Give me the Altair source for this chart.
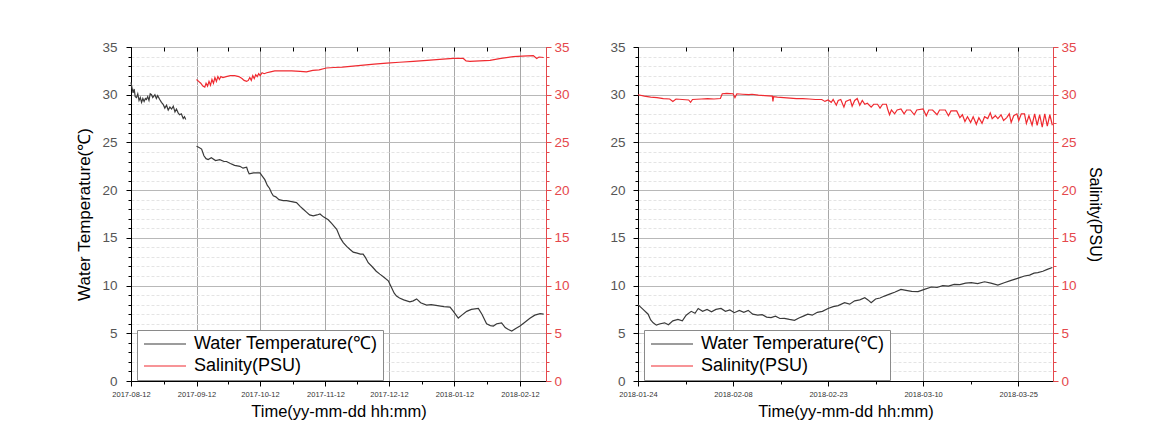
import altair as alt
import pandas as pd

# ---------------- data (x = days since panel start) ----------------
L_START = "2017-08-12"
R_START = "2018-01-24"
L_END_DAYS = 196.3
R_END_DAYS = 65.5

L_TICKS = ["2017-08-12", "2017-09-12", "2017-10-12", "2017-11-12",
           "2017-12-12", "2018-01-12", "2018-02-12"]
R_TICKS = ["2018-01-24", "2018-02-08", "2018-02-23", "2018-03-10", "2018-03-25"]
Y_TICKS = list(range(0, 36))

TEMP = "Water Temperature(\u2103)"
SAL = "Salinity(PSU)"

# left panel, water temperature, first segment
lt1_days = [0.0, 0.5, 1.0, 1.5, 2.0, 2.6, 3.2, 3.8, 4.4, 5.0, 5.6, 6.2, 6.8, 7.3, 7.9,
            8.5, 9.1, 9.7, 10.3, 11.3, 12.0, 12.6, 13.6, 14.4, 15.2, 16.0, 16.8, 17.6,
            18.4, 19.2, 20.0, 20.8, 21.5, 22.3, 23.0, 23.8, 24.7, 25.3, 25.9]
lt1_vals = [31.3, 30.7, 30.2, 30.6, 29.8, 29.7, 30.1, 29.4, 29.7, 29.2, 29.6, 29.3, 29.6,
            29.5, 29.8, 29.4, 30.1, 30.0, 29.7, 30.0, 29.6, 29.9, 29.5, 29.2, 29.0, 28.6,
            28.9, 28.4, 28.7, 28.5, 28.8, 28.2, 28.5, 28.1, 27.9, 28.0, 27.5, 27.7, 27.4]
# left panel, water temperature, second segment
lt2_days = [31.0, 32.0, 33.4, 34.5, 35.5, 36.5, 38, 40, 42, 44, 45.2, 47, 49, 51.5, 53,
            54.7, 55.3, 55.9, 58, 61, 62, 63.3, 64.5, 65.5, 66.5, 67.3, 68.5, 70, 72,
            73.6, 76, 78.3, 80, 81.5, 83, 84.5, 86.2, 88, 89.4, 91, 93.3, 95, 97.3, 99,
            100.4, 102, 103.5, 105.1, 107, 108.5, 109.8, 111, 112.2, 114, 116, 117.7,
            119.5, 121.7, 123, 124.5, 125.6, 127, 129, 131.9, 133.5, 135.1, 137, 139.8,
            142, 145, 148, 150.9, 152.5, 154.8, 156.5, 158.8, 161, 164.3, 166, 168.2,
            170, 171.4, 173, 175.3, 177, 178.5, 180.1, 182, 184, 186, 188.7, 191, 193.5,
            195.2]
lt2_vals = [24.6, 24.5, 24.3, 23.6, 23.3, 23.2, 23.4, 23.1, 23.2, 23.0, 23.0, 22.8, 22.6,
            22.5, 22.3, 22.4, 22.0, 21.7, 21.8, 21.8, 21.5, 21.1, 20.5, 20.2, 19.7, 19.4,
            19.3, 19.0, 18.9, 18.9, 18.8, 18.7, 18.3, 18.0, 17.7, 17.4, 17.3, 17.4, 17.5,
            17.2, 16.9, 16.5, 15.9, 15.0, 14.5, 14.1, 13.8, 13.5, 13.4, 13.3, 13.3, 12.9,
            12.4, 12.0, 11.5, 11.2, 10.9, 10.5, 9.9, 9.2, 8.9, 8.7, 8.5, 8.3, 8.4, 8.6,
            8.2, 7.96, 8.0, 7.9, 7.8, 7.75, 7.3, 6.6, 6.9, 7.3, 7.5, 7.6, 7.0, 6.0, 5.8,
            5.76, 6.0, 6.1, 5.6, 5.4, 5.24, 5.5, 5.76, 6.1, 6.57, 6.9, 7.05, 7.0]
# left panel, salinity
ls_days = [31.0, 32, 33, 34, 34.9, 35.5, 36.2, 36.9, 37.6, 38.3, 39, 39.7, 40.4, 41.1,
           41.8, 42.5, 43.5, 45, 47, 49, 51, 52.5, 53.5, 54.7, 55.5, 56.2, 56.9, 57.6,
           58.3, 59, 59.7, 60.4, 61.1, 62, 63, 64.2, 66, 68, 72, 76, 80, 83, 86, 89,
           92.4, 96, 100, 105, 110, 115, 120.9, 127, 133.5, 140, 146, 152.4, 157.2,
           158.5, 160.3, 165, 169.8, 175, 180.8, 185, 190.3, 191.9, 193, 195.2]
ls_vals = [31.6, 31.4, 31.2, 30.9, 30.8, 31.2, 30.9, 31.4, 31.0, 31.6, 31.2, 31.8, 31.4,
           31.9, 31.6, 31.9, 31.8, 31.9, 32.0, 32.0, 31.9, 31.7, 31.5, 31.4, 31.5, 31.8,
           31.5, 32.0, 31.7, 32.1, 31.9, 32.2, 32.0, 32.3, 32.2, 32.3, 32.4, 32.5, 32.5,
           32.5, 32.45, 32.4, 32.55, 32.6, 32.8, 32.85, 32.9, 33.0, 33.1, 33.2, 33.3,
           33.4, 33.5, 33.6, 33.7, 33.8, 33.8, 33.55, 33.5, 33.55, 33.6, 33.8, 34.0,
           34.05, 34.1, 33.8, 33.95, 33.9]
# right panel, water temperature
rt_days = [0, 0.8, 1.6, 2.0, 2.4, 2.9, 3.5, 4.2, 4.8, 5.5, 6.3, 7.0, 7.6, 8.4, 9.0, 9.5,
           10.2, 10.9, 11.6, 12.3, 13.1, 13.8, 14.5, 15.2, 16.0, 16.7, 17.4, 18.1, 18.9,
           19.6, 20.3, 21, 21.7, 22.4, 23.1, 23.9, 24.7, 25.4, 26.1, 26.8, 27.5, 28.3,
           29.1, 30.0, 30.8, 31.6, 32.6, 33.4, 34.2, 35.0, 35.8, 36.3, 36.8, 37.5, 38.2,
           38.9, 39.7, 40.5, 41.5, 42.3, 43.2, 44.2, 45.2, 46.3, 47.2, 48.1, 49.0, 49.9,
           50.8, 51.7, 52.6, 53.6, 54.7, 55.7, 56.8, 57.8, 58.9, 59.9, 61, 61.8, 62.5,
           63.1, 63.9, 64.6, 65.4]
rt_vals = [8.0, 7.5, 7.0, 6.4, 6.1, 5.85, 6.0, 6.1, 5.9, 6.3, 6.46, 6.3, 6.9, 7.3, 7.1,
           7.6, 7.3, 7.5, 7.26, 7.5, 7.6, 7.3, 7.45, 7.16, 7.4, 7.2, 7.4, 7.0, 6.9, 6.95,
           6.7, 6.64, 6.8, 6.55, 6.57, 6.45, 6.36, 6.6, 6.8, 7.0, 6.9, 7.2, 7.3, 7.6, 7.8,
           7.9, 8.2, 8.05, 8.4, 8.5, 8.73, 8.5, 8.2, 8.6, 8.7, 8.9, 9.1, 9.3, 9.6, 9.5,
           9.4, 9.36, 9.6, 9.85, 9.8, 10.0, 9.95, 10.13, 10.1, 10.25, 10.3, 10.2, 10.4,
           10.25, 10.06, 10.3, 10.55, 10.76, 11.0, 11.1, 11.3, 11.35, 11.5, 11.7, 11.9]
# right panel, salinity
rs_days = [0, 1, 2, 3, 4, 5, 5.5, 6, 7, 8, 8.3, 8.6, 10, 11, 12, 13, 13.3, 14, 15, 15.3,
           15.6, 16.5, 17.5, 18, 19, 20, 21.2, 21.3, 21.4, 22, 23, 24, 25, 26, 27, 28,
           29, 29.5, 30, 30.5, 30.8, 31.3, 31.6, 32, 32.5, 32.8, 33.5, 33.8, 34.2, 34.6,
           35, 35.4, 35.8, 36.2, 36.8, 37.2, 37.8, 38.2, 38.6, 39.2, 39.4, 39.7, 40,
           40.5, 40.9, 41.5, 42, 42.4, 43, 43.6, 44, 45, 45.5, 45.9, 46.5, 47.2, 47.6,
           48.5, 49, 49.4, 50.3, 50.8, 51.2, 51.6, 52, 52.5, 52.9, 53.4, 53.8, 54.3,
           54.7, 55.2, 55.6, 55.9, 56.4, 56.8, 57.3, 57.7, 58.2, 58.6, 58.9, 59.3, 59.8,
           60.1, 60.5, 61, 61.3, 61.7, 62.2, 62.6, 63, 63.4, 63.8, 64.2, 64.6, 65, 65.4]
rs_vals = [30.0, 29.85, 29.75, 29.7, 29.6, 29.55, 29.3, 29.55, 29.5, 29.45, 29.2, 29.5,
           29.55, 29.6, 29.55, 29.6, 30.1, 30.15, 30.1, 29.7, 30.1, 30.05, 30.0, 30.05,
           29.95, 29.9, 29.85, 29.3, 29.8, 29.75, 29.7, 29.65, 29.6, 29.6, 29.55, 29.5,
           29.5, 29.3, 29.45, 29.2, 29.5, 28.9, 29.4, 29.5, 28.7, 29.3, 29.5, 28.8, 29.4,
           29.6, 28.9, 29.4, 29.0, 29.1, 28.7, 29.0, 29.0, 28.6, 29.0, 29.0, 28.5, 27.9,
           28.4, 28.0, 28.4, 28.5, 28.0, 28.4, 28.4, 27.9, 28.4, 28.5, 27.8, 28.4, 28.4,
           27.9, 28.4, 28.4, 27.8, 28.3, 28.3, 27.6, 27.9, 27.2, 27.7, 27.1, 27.7, 26.9,
           27.6, 27.0, 27.7, 27.5, 28.1, 27.5, 27.8, 27.5, 27.9, 27.3, 27.6, 28.0, 27.1,
           27.8, 28.0, 27.3, 28.0, 28.0, 27.0, 27.8, 26.8, 28.0, 26.8, 27.9, 26.6, 28.0,
           26.7, 27.9, 26.8]

# ---------------- style ----------------
FONT = "Liberation Sans"
TC = "#3a3a3a"
SC = "#f02a30"
RED_AXIS = "#e5484c"
PW, PH = 415, 334
Y_MAJOR = "datum.value % 5 === 0"


def to_ms(start, days):
    base = pd.Timestamp(start, tz="UTC")
    return [int((base + pd.to_timedelta(d, unit="D")).value // 10**6) for d in days]


def frame(start, days, vals, series, seg):
    return pd.DataFrame({"t": to_ms(start, days), "v": vals, "series": series, "seg": seg})


def panel(temp_df, sal_df, start, end_days, ticks, x_major, left_title, right_title,
          lpad):
    majors = [to_ms(t, [0])[0] for t in ticks]
    minors = [(a + b) // 2 for a, b in zip(majors[:-1], majors[1:])]
    xvals = sorted(majors + minors)
    dom = [to_ms(start, [0])[0], to_ms(start, [end_days])[0]]
    xscale = alt.Scale(type="utc", domain=dom, nice=False)
    yscale = alt.Scale(domain=[0, 35], nice=False, zero=True)

    color = alt.Color(
        "series:N",
        scale=alt.Scale(domain=[TEMP, SAL], range=[TC, SC]),
        legend=alt.Legend(
            title=None, orient="none", legendX=6, legendY=PH - 51,
            symbolType="M-1,0H5", symbolSize=196, symbolStrokeWidth=1.2,
            labelFont=FONT, labelFontSize=18, labelColor="#000", labelLimit=500,
            labelOffset=34, rowPadding=4, padding=5, strokeColor="#8a8a8a",
            fillColor="#ffffff", cornerRadius=0,
        ),
    )

    bottom_axis = alt.Axis(
        orient="bottom", values=xvals,
        labelExpr=f"({x_major}) ? utcFormat(datum.value, '%Y-%m-%d') : ''",
        labelOverlap=False, labelFlush=False, labelFont=FONT, labelFontSize=7.5,
        labelColor="#333", labelPadding=4,
        tickSize={"condition": {"test": x_major, "value": 5}, "value": 3},
        tickColor="#000", domainColor="#000",
        grid=True, gridColor="#a8a8a8",
        gridOpacity={"condition": {"test": x_major, "value": 1}, "value": 0},
        title="Time(yy-mm-dd hh:mm)", titleFont=FONT, titleFontSize=16.5,
        titleFontWeight="normal", titleColor="#000", titlePadding=6,
    )
    top_axis = alt.Axis(
        orient="top", values=xvals, labels=False, domain=False, grid=False,
        tickSize=4, offset=-4, tickColor="#000", title=None,
    )
    left_axis = alt.Axis(
        orient="left", values=Y_TICKS,
        labelExpr=f"({Y_MAJOR}) ? datum.label : ''",
        labelFont=FONT, labelFontSize=13.5, labelColor="#555", labelPadding=lpad,
        tickSize={"condition": {"test": Y_MAJOR, "value": 5}, "value": 3},
        tickColor="#000", domainColor="#000",
        grid=True,
        gridColor={"condition": {"test": Y_MAJOR, "value": "#b8b8b8"}, "value": "#e4e4e4"},
        gridDash={"condition": {"test": Y_MAJOR, "value": []}, "value": [3, 2]},
        title=left_title, titleFont=FONT, titleFontSize=17, titleFontWeight="normal",
        titleColor="#000", titlePadding=8,
    )
    right_axis = alt.Axis(
        orient="right", values=Y_TICKS,
        labelExpr=f"({Y_MAJOR}) ? datum.label : ''",
        labelFont=FONT, labelFontSize=13.5, labelColor=RED_AXIS, labelPadding=3,
        tickSize={"condition": {"test": Y_MAJOR, "value": 5}, "value": 3},
        tickColor=RED_AXIS, domainColor=RED_AXIS, grid=False,
        title=right_title, titleFont=FONT, titleFontSize=16, titleFontWeight="normal",
        titleColor="#000", titlePadding=10,
    )

    temp = alt.Chart(temp_df).mark_line(strokeWidth=1.2, interpolate="linear").encode(
        x=alt.X("t:T", scale=xscale, axis=bottom_axis),
        y=alt.Y("v:Q", scale=yscale, axis=left_axis),
        color=color,
        detail="seg:N",
    )
    sal = alt.Chart(sal_df).mark_line(strokeWidth=1.2).encode(
        x=alt.X("t:T", scale=xscale, axis=top_axis),
        y=alt.Y("v:Q", scale=yscale, axis=right_axis),
        color=color,
        detail="seg:N",
    )
    return alt.layer(temp, sal).resolve_scale(y="independent").resolve_axis(
        x="independent", y="independent"
    ).properties(width=PW, height=PH)


left_temp = pd.concat([frame(L_START, lt1_days, lt1_vals, TEMP, "a"),
                       frame(L_START, lt2_days, lt2_vals, TEMP, "b")])
left_sal = frame(L_START, ls_days, ls_vals, SAL, "c")
right_temp = frame(R_START, rt_days, rt_vals, TEMP, "a")
right_sal = frame(R_START, rs_days, rs_vals, SAL, "c")

left = panel(left_temp, left_sal, L_START, L_END_DAYS, L_TICKS, "utcdate(datum.value) === 12",
             TEMP, None, 9)
right = panel(right_temp, right_sal, R_START, R_END_DAYS, R_TICKS,
              "utchours(datum.value) === 0", None, SAL, 8)

chart = alt.hconcat(left, right, spacing=39).resolve_scale(color="independent").resolve_legend(
    color="independent"
).properties(
    padding={"left": 67, "top": 31, "right": 5, "bottom": 5}
).configure_view(stroke="#000", strokeWidth=1)

chart.save("out.html", embed_options={"renderer": "svg", "actions": False})
